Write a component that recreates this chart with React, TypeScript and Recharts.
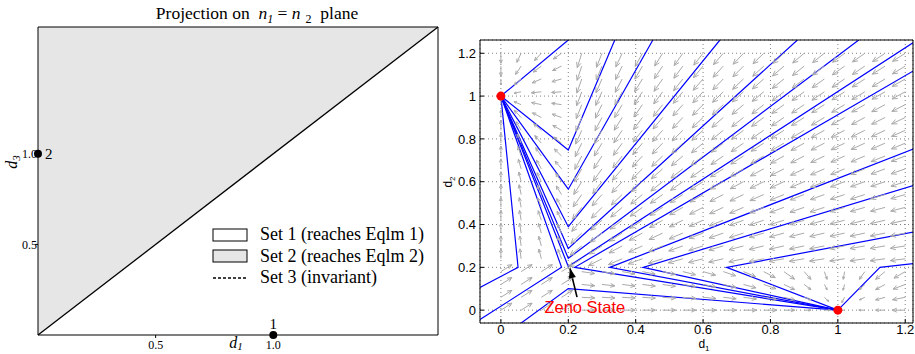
import React from "react";
import {
  ComposedChart,
  Line,
  Area,
  Scatter,
  XAxis,
  YAxis,
  CartesianGrid,
  Legend,
  ReferenceDot,
} from "recharts";

// ---------- left panel: projection on the n1 = n2 plane ----------
const projTicks = [0.5, 1.0];
const projRange = [0, 1.7];
const set2Region = [
  { d1: 0, band: [0, 1.7] },
  { d1: 1.7, band: [1.7, 1.7] },
];
const set3Boundary = [
  { d1: 0, d3: 0 },
  { d1: 1.7, d3: 1.7 },
];
const projEquilibria = [
  { d1: 1.0, d3: 0, name: "1", side: "top" },
  { d1: 0, d3: 1.0, name: "2", side: "right" },
];
const legendItems = [
  { label: "Set 1 (reaches Eqlm 1)", swatch: "white" },
  { label: "Set 2 (reaches Eqlm 2)", swatch: "gray" },
  { label: "Set 3 (invariant)", swatch: "dashed" },
];

// ---------- right panel: phase portrait in (d1, d2) ----------
const d1Ticks = [0, 0.2, 0.4, 0.6, 0.8, 1, 1.2];
const d2Ticks = [0, 0.2, 0.4, 0.6, 0.8, 1, 1.2];
const d1Range = [-0.062, 1.223];
const d2Range = [-0.06, 1.262];
const quiverD1 = [0, 0.06, 0.12, 0.18, 0.24, 0.3, 0.36, 0.42, 0.48, 0.54, 0.6, 0.66, 0.72, 0.78, 0.84, 0.9, 0.96, 1.02, 1.08, 1.14, 1.2];
const quiverD2 = [0, 0.06, 0.12, 0.18, 0.24, 0.3, 0.36, 0.42, 0.48, 0.54, 0.6, 0.66, 0.72, 0.78, 0.84, 0.9, 0.96, 1.02, 1.08, 1.14, 1.2];
const switchLevel = 0.2;
// where the arrows point in each mode
const flowModes = {
  toEqlm2: { sink: [0, 1], cap: 10, gain: 0.35, minLen: 6 },
  toEqlm1: { sink: [1, 0], cap: 13, gain: 0.2, minLen: 6 },
  toOrigin: { sink: [0, 0], cap: 15, gain: 1, minLen: 15 },
  lowerLeft: { dir: [1, 1], cap: 13 },
};
const trajectories = [
  [[0.2, 1.262], [0, 1]],
  [[0.338, 1.262], [0.2, 0.748], [0, 1]],
  [[0.451, 1.262], [0.2, 0.565], [0, 1]],
  [[0.65, 1.262], [0.2, 0.39], [0, 1]],
  [[0.88, 1.262], [0.2, 0.288], [0, 1]],
  [[1.062, 1.262], [0.2, 0.242], [0, 1]],
  [[1.228, 1.254], [0.2, 0.204], [0, 1]],
  [[-0.062, -0.044], [0.18, 0.2], [0, 1]],
  [[-0.062, 0.106], [0.051, 0.2], [0, 1]],
  [[1.228, 1.121], [0.219, 0.2], [1, 0]],
  [[1.228, 0.755], [0.323, 0.2], [1, 0]],
  [[1.228, 0.584], [0.422, 0.2], [1, 0]],
  [[1.228, 0.366], [0.67, 0.2], [1, 0]],
  [[1.228, 0.218], [1.125, 0.2], [1, 0]],
  [[0.056, -0.065], [0.2, 0.101], [1, 0]],
];
const equilibria = [
  { d1: 0, d2: 1 },
  { d1: 1, d2: 0 },
];
const zenoArrow = [
  { d1: 0.226, d2: 0.061 },
  { d1: 0.205, d2: 0.196 },
];
const zenoLabel = { d1: 0.249, d2: 0.015, text: "Zeno State" };

// layout
const LEFT_W = 450;
const RIGHT_X = 455;
const RIGHT_W = 460;
const H = 354;
const R_MARGIN = { top: 39, right: 1, left: 0, bottom: 0 };
const R_YAXIS_W = 25;
const R_XAXIS_H = 31;
const R_PLOT_W = RIGHT_W - R_MARGIN.left - R_MARGIN.right - R_YAXIS_W - 1;
const R_PLOT_H = H - R_MARGIN.top - R_MARGIN.bottom - R_XAXIS_H - 1;
const sx = R_PLOT_W / (d1Range[1] - d1Range[0]);
const sy = R_PLOT_H / (d2Range[1] - d2Range[0]);

const serif = '"Liberation Serif", "Times New Roman", serif';
const sans = '"Liberation Sans", Arial, sans-serif';

function modeAt(d1: number, d2: number) {
  if (d1 < switchLevel && d2 >= switchLevel) return flowModes.toEqlm2;
  if (d1 >= switchLevel && d2 < switchLevel) return flowModes.toEqlm1;
  if (d1 >= switchLevel && d2 >= switchLevel) return flowModes.toOrigin;
  return flowModes.lowerLeft;
}

const quiverData = quiverD2
  .flatMap((d2) =>
    quiverD1.map((d1) => {
      const m: any = modeAt(d1, d2);
      let vx: number, vy: number;
      if (m.sink) {
        vx = (m.sink[0] - d1) * sx;
        vy = -(m.sink[1] - d2) * sy;
      } else {
        vx = m.dir[0] * sx;
        vy = -m.dir[1] * sy;
      }
      const dist = Math.hypot(vx, vy);
      if (dist < 1e-6) return null;
      const len = m.sink ? Math.min(m.cap, Math.max(m.minLen, m.gain * dist)) : m.cap;
      return { d1, d2, ux: vx / dist, uy: vy / dist, len };
    })
  )
  .filter(Boolean);

const QuiverArrow = (props: any) => {
  const { cx, cy, payload } = props;
  if (cx == null || cy == null) return null;
  const { ux, uy, len } = payload;
  const hx = cx + ux * len;
  const hy = cy + uy * len;
  const h = len * 0.38;
  const a = 0.42;
  const bx = -ux;
  const by = -uy;
  const c = Math.cos(a);
  const s = Math.sin(a);
  const w1x = hx + h * (bx * c - by * s);
  const w1y = hy + h * (bx * s + by * c);
  const w2x = hx + h * (bx * c + by * s);
  const w2y = hy + h * (-bx * s + by * c);
  return (
    <path
      d={`M${cx},${cy}L${hx},${hy}M${w1x},${w1y}L${hx},${hy}L${w2x},${w2y}`}
      stroke="#aaaaaa"
      strokeWidth={1}
      fill="none"
    />
  );
};

const RedDot = (props: any) => {
  const { cx, cy } = props;
  if (cx == null) return null;
  return <circle cx={cx} cy={cy} r={4.5} fill="#ff0000" />;
};

const ZenoHead = (props: any) => {
  const { cx, cy } = props;
  if (cx == null) return null;
  const vx = (zenoArrow[1].d1 - zenoArrow[0].d1) * sx;
  const vy = -(zenoArrow[1].d2 - zenoArrow[0].d2) * sy;
  const ang = (Math.atan2(vy, vx) * 180) / Math.PI;
  return (
    <polygon
      points="0,0 -10,-3.6 -10,3.6"
      fill="#000"
      transform={`translate(${cx},${cy}) rotate(${ang})`}
    />
  );
};

const ProjDot = (props: any) => {
  const { cx, cy, payload } = props;
  if (cx == null) return null;
  const top = payload.side === "top";
  return (
    <g>
      <circle cx={cx} cy={cy} r={4} fill="#000" />
      <text
        x={top ? cx : cx + 7}
        y={top ? cy - 6 : cy + 5}
        textAnchor={top ? "middle" : "start"}
        fontFamily={serif}
        fontSize={15}
        fill="#000"
      >
        {payload.name}
      </text>
    </g>
  );
};

const ProjLegend = () => (
  <div style={{ fontFamily: serif, fontSize: 18, color: "#000" }}>
    {legendItems.map((item) => (
      <div key={item.label} style={{ display: "flex", alignItems: "center", height: 21.5 }}>
        <svg width={48} height={14}>
          {item.swatch === "dashed" ? (
            <line x1={1} y1={7} x2={35} y2={7} stroke="#000" strokeWidth={1.5} strokeDasharray="3 2" />
          ) : (
            <rect
              x={1}
              y={1}
              width={34}
              height={12}
              fill={item.swatch === "gray" ? "#e6e6e6" : "#fff"}
              stroke="#000"
            />
          )}
        </svg>
        <span style={{ whiteSpace: "nowrap" }}>{item.label}</span>
      </div>
    ))}
  </div>
);

function ProjectionPanel() {
  return (
    <ComposedChart
      width={LEFT_W}
      height={H}
      margin={{ top: 26, right: 11, left: 0, bottom: 0 }}
    >
      <XAxis
        dataKey="d1"
        type="number"
        domain={projRange}
        ticks={projTicks}
        tickFormatter={(v: number) => v.toFixed(1)}
        height={19}
        tickSize={3}
        tickMargin={2}
        axisLine={{ stroke: "#000" }}
        tickLine={{ stroke: "#000" }}
        tick={{ fill: "#000", fontSize: 12, fontFamily: serif }}
      />
      <XAxis xAxisId="top" orientation="top" type="number" domain={projRange} height={1} tick={false} tickLine={false} axisLine={{ stroke: "#000" }} />
      <YAxis
        type="number"
        domain={projRange}
        ticks={projTicks}
        tickFormatter={(v: number) => v.toFixed(1)}
        width={38}
        tickSize={3}
        tickMargin={-2}
        axisLine={{ stroke: "#000" }}
        tickLine={{ stroke: "#000" }}
        tick={{ fill: "#000", fontSize: 12, fontFamily: serif }}
      />
      <YAxis yAxisId="right" orientation="right" type="number" domain={projRange} width={1} tick={false} tickLine={false} axisLine={{ stroke: "#000" }} />
      <Area
        data={set2Region}
        dataKey="band"
        type="linear"
        fill="#e6e6e6"
        fillOpacity={1}
        stroke="none"
        isAnimationActive={false}
      />
      <Line
        data={set3Boundary}
        dataKey="d3"
        type="linear"
        stroke="#000"
        strokeWidth={1.3}
        dot={false}
        activeDot={false}
        isAnimationActive={false}
      />
      <Scatter data={projEquilibria} dataKey="d3" shape={ProjDot} isAnimationActive={false} />
      <Legend
        layout="vertical"
        align="center"
        verticalAlign="middle"
        content={ProjLegend}
        wrapperStyle={{ left: 212, top: 224, width: 236 }}
      />
    </ComposedChart>
  );
}

function PhasePanel() {
  return (
    <ComposedChart width={RIGHT_W} height={H} margin={R_MARGIN}>
      <CartesianGrid stroke="#808080" strokeDasharray="1 3" />
      <XAxis
        dataKey="d1"
        type="number"
        domain={d1Range}
        ticks={d1Ticks}
        allowDataOverflow
        tickFormatter={(v: number) => String(Number(v.toFixed(1)))}
        height={R_XAXIS_H}
        tickSize={-4}
        tickMargin={6}
        axisLine={{ stroke: "#000" }}
        tickLine={{ stroke: "#000" }}
        tick={{ fill: "#000", fontSize: 13, fontFamily: sans }}
      />
      <XAxis
        xAxisId="top"
        orientation="top"
        type="number"
        domain={d1Range}
        ticks={d1Ticks}
        allowDataOverflow
        height={1}
        tickSize={-4}
        tick={false}
        axisLine={{ stroke: "#000" }}
        tickLine={{ stroke: "#000" }}
      />
      <YAxis
        type="number"
        domain={d2Range}
        ticks={d2Ticks}
        allowDataOverflow
        tickFormatter={(v: number) => String(Number(v.toFixed(1)))}
        width={R_YAXIS_W}
        tickSize={-4}
        tickMargin={8}
        axisLine={{ stroke: "#000" }}
        tickLine={{ stroke: "#000" }}
        tick={{ fill: "#000", fontSize: 13, fontFamily: sans }}
      />
      <YAxis
        yAxisId="right"
        orientation="right"
        type="number"
        domain={d2Range}
        ticks={d2Ticks}
        allowDataOverflow
        width={1}
        tickSize={-4}
        tick={false}
        axisLine={{ stroke: "#000" }}
        tickLine={{ stroke: "#000" }}
      />
      <Scatter data={quiverData} dataKey="d2" shape={QuiverArrow} isAnimationActive={false} />
      {trajectories.map((t, i) => (
        <Line
          key={i}
          data={t.map(([d1, d2]) => ({ d1, d2 }))}
          dataKey="d2"
          type="linear"
          stroke="#0000ff"
          strokeWidth={1.2}
          dot={false}
          activeDot={false}
          isAnimationActive={false}
        />
      ))}
      <Line
        data={zenoArrow}
        dataKey="d2"
        type="linear"
        stroke="#000"
        strokeWidth={1.6}
        dot={false}
        activeDot={false}
        isAnimationActive={false}
      />
      <Scatter data={[zenoArrow[1]]} dataKey="d2" shape={ZenoHead} isAnimationActive={false} />
      <Scatter data={equilibria} dataKey="d2" shape={RedDot} isAnimationActive={false} />
      <ReferenceDot
        x={zenoLabel.d1}
        y={zenoLabel.d2}
        r={0}
        shape={(p: any) => (
          <text
            x={p.cx}
            y={p.cy}
            textAnchor="middle"
            dominantBaseline="central"
            fill="#ff0000"
            fontFamily={sans}
            fontSize={16.5}
          >
            {zenoLabel.text}
          </text>
        )}
      />
    </ComposedChart>
  );
}

export default function App() {
  return (
    <div style={{ position: "absolute", left: 0, top: 0, width: 915, height: H, background: "#fff" }}>
      <div style={{ position: "absolute", left: 0, top: 0 }}>
        <ProjectionPanel />
      </div>
      <div style={{ position: "absolute", left: RIGHT_X, top: 0 }}>
        <PhasePanel />
      </div>
      <svg
        width={915}
        height={H}
        style={{ position: "absolute", left: 0, top: 0, pointerEvents: "none" }}
      >
        <text x={257} y={19} textAnchor="middle" fontFamily={serif} fontSize={17.5} fill="#000" style={{ whiteSpace: "pre" }}>
          {"Projection on  "}
          <tspan fontStyle="italic">n</tspan>
          <tspan fontStyle="italic" fontSize={12} dy={4}>1</tspan>
          <tspan dy={-4}>{" = "}</tspan>
          <tspan fontStyle="italic">n</tspan>
          <tspan fontSize={12} dy={4} dx={5}>2</tspan>
          <tspan dy={-4}>{"  plane"}</tspan>
        </text>
        <text x={236} y={348} textAnchor="middle" fontFamily={serif} fontSize={16} fill="#000">
          <tspan fontStyle="italic">d</tspan>
          <tspan fontStyle="italic" fontSize={11} dy={2}>1</tspan>
        </text>
        <text
          x={0}
          y={0}
          transform="translate(17,162) rotate(-90)"
          textAnchor="middle"
          fontFamily={serif}
          fontSize={16}
          fill="#000"
        >
          <tspan fontStyle="italic">d</tspan>
          <tspan fontStyle="italic" fontSize={11} dy={3}>3</tspan>
        </text>
        <text x={704} y={348} textAnchor="middle" fontFamily={sans} fontSize={12} fill="#000">
          d<tspan fontSize={8} dy={3}>1</tspan>
        </text>
        <text
          x={0}
          y={0}
          transform="translate(452,182) rotate(-90)"
          textAnchor="middle"
          fontFamily={sans}
          fontSize={12}
          fill="#000"
        >
          d<tspan fontSize={8} dy={3}>2</tspan>
        </text>
      </svg>
    </div>
  );
}
